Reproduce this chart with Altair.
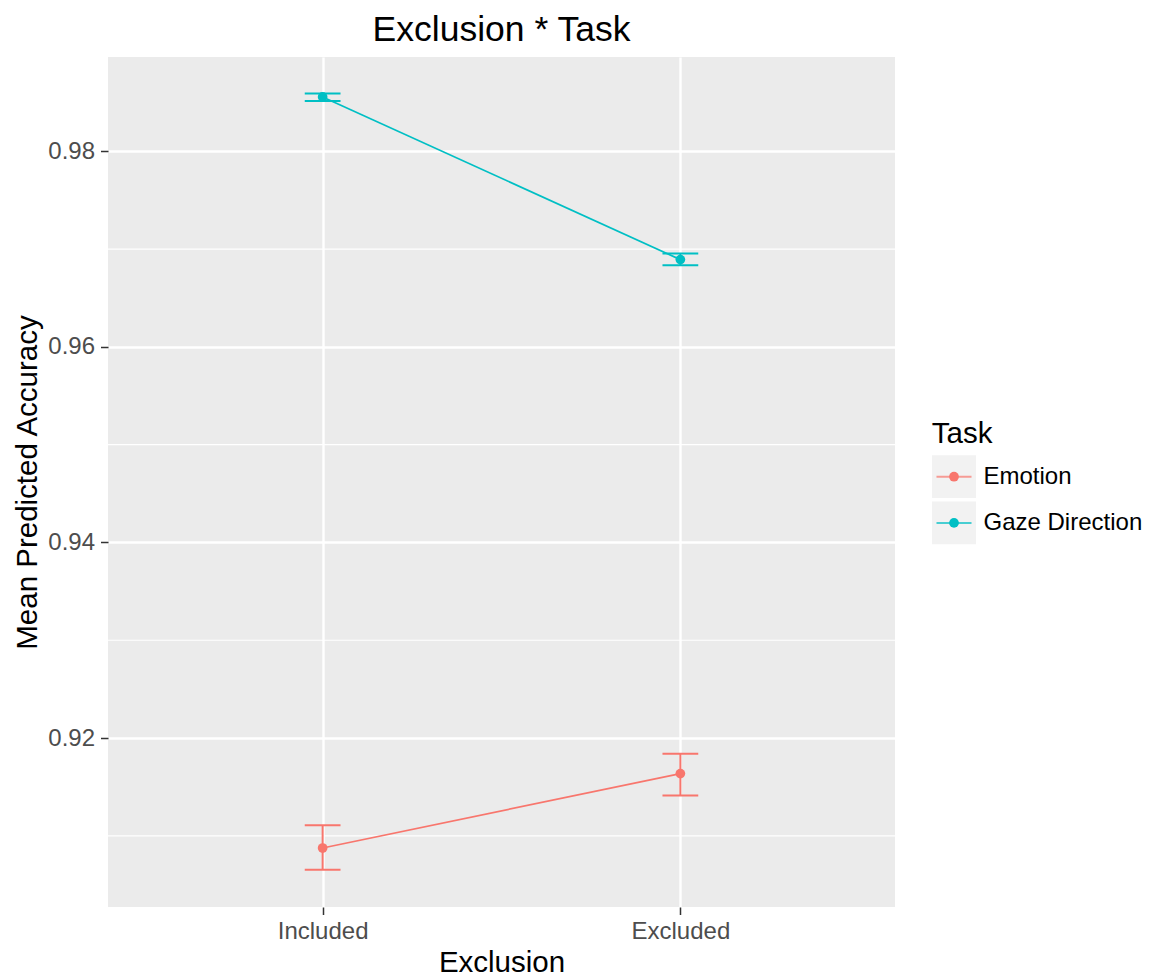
import json
import altair as alt
import pandas as pd

# ---- data ----
exclusion = ["Included", "Excluded"]
tasks = ["Emotion", "Gaze Direction"]
colors = ["#F8766D", "#00BFC4"]

emotion_mean = [0.90875, 0.91636]
emotion_lo = [0.90654, 0.91411]
emotion_hi = [0.91107, 0.91840]

gaze_mean = [0.98555, 0.96892]
gaze_lo = [0.98514, 0.96834]
gaze_hi = [0.98590, 0.96954]

y_major = [0.92, 0.94, 0.96, 0.98]
y_minor = [0.91, 0.93, 0.95, 0.97]
y_domain = [0.90272, 0.98964]

rows = []
for task, m, lo, hi in [("Emotion", emotion_mean, emotion_lo, emotion_hi),
                        ("Gaze Direction", gaze_mean, gaze_lo, gaze_hi)]:
    for i, ex in enumerate(exclusion):
        rows.append({"Exclusion": ex, "idx": i + 1, "Task": task,
                     "mean": m[i], "lo": lo[i], "hi": hi[i]})
df = pd.DataFrame(rows)
minor_df = pd.DataFrame({"v": y_minor})
task_df = pd.DataFrame({"Task": tasks})

FONT = "Liberation Sans"
TICK_FS = 24
TITLE_FS = 29.5
color = alt.Color("Task:N", scale=alt.Scale(domain=tasks, range=colors), legend=None)
yscale = alt.Scale(domain=y_domain, nice=False, zero=False)
xscale = alt.Scale(domain=[0.4, 2.6], nice=False, zero=False)

label_expr = json.dumps(exclusion) + "[round(datum.value) - 1]"

x_enc = alt.X("idx:Q", scale=xscale, axis=alt.Axis(
    values=[1, 2], labelExpr=label_expr, title="Exclusion",
    grid=True, gridColor="white", gridWidth=2.4,
    domain=False, ticks=True, tickColor="#333333", tickSize=7.5, tickWidth=1.5,
    labelFontSize=TICK_FS, labelColor="#4D4D4D", labelPadding=5, labelFont=FONT,
    titleFontSize=TITLE_FS, titleColor="black", titleFontWeight="normal",
    titlePadding=5, titleFont=FONT))
y_enc = alt.Y("mean:Q", scale=yscale, axis=alt.Axis(
    values=y_major, format=".2f", title="Mean Predicted Accuracy",
    grid=True, gridColor="white", gridWidth=2.4,
    domain=False, ticks=True, tickColor="#333333", tickSize=7.5, tickWidth=1.5,
    labelFontSize=TICK_FS, labelColor="#4D4D4D", labelPadding=6, labelFont=FONT,
    titleFontSize=TITLE_FS, titleColor="black", titleFontWeight="normal",
    titlePadding=5, titleFont=FONT))

base = alt.Chart(df)

minor = alt.Chart(minor_df).mark_rule(color="white", strokeWidth=1.2).encode(
    y=alt.Y("v:Q", scale=yscale))
line = base.mark_line(strokeWidth=1.7).encode(x=x_enc, y=y_enc, color=color)
vbar = base.mark_rule(strokeWidth=2).encode(
    x="idx:Q", y=alt.Y("lo:Q", scale=yscale), y2="hi:Q", color=color)
caps_base = base.transform_calculate(xl="datum.idx - 0.05", xr="datum.idx + 0.05")
cap_lo = caps_base.mark_rule(strokeWidth=2).encode(
    x=alt.X("xl:Q", scale=xscale), x2="xr:Q", y=alt.Y("lo:Q", scale=yscale), color=color)
cap_hi = caps_base.mark_rule(strokeWidth=2).encode(
    x=alt.X("xl:Q", scale=xscale), x2="xr:Q", y=alt.Y("hi:Q", scale=yscale), color=color)
pts = base.mark_circle(size=95, opacity=1).encode(
    x="idx:Q", y=alt.Y("mean:Q", scale=yscale), color=color)

main = alt.layer(minor, line, vbar, cap_lo, cap_hi, pts).properties(
    width=787, height=850,
    title=alt.TitleParams("Exclusion * Task", fontSize=35.5, font=FONT,
                          fontWeight="normal", color="black", anchor="middle", offset=9),
    view=alt.ViewBackground(fill="#EBEBEB", strokeWidth=0),
)

# ---- legend panel (built from the task list) ----
leg_y = alt.Y("Task:N", scale=alt.Scale(domain=tasks, range=[398.3, 487.3], paddingInner=0.0728,
                                         paddingOuter=0),
              axis=alt.Axis(orient="right", ticks=False, tickSize=0, domain=False, grid=False,
                            labelPadding=7, labelFontSize=TICK_FS, labelColor="black", labelFont=FONT,
                            title="Task", titleAngle=0, titleAlign="left",
                            titleBaseline="alphabetic", titleX=-44.7, titleY=385,
                            titleFontSize=TITLE_FS, titleFontWeight="normal", titleColor="black",
                            titleFont=FONT))
leg_base = alt.Chart(task_df)
leg_rect = leg_base.mark_rect(color="#F2F2F2").encode(y=leg_y)
leg_tick = leg_base.mark_tick(orient="horizontal", size=35, thickness=2).encode(
    y=alt.Y("Task:N"), color=color)
leg_pt = leg_base.mark_circle(size=95, opacity=1).encode(y=alt.Y("Task:N"), color=color)
legend = alt.layer(leg_rect, leg_tick, leg_pt).properties(
    width=44, height=850,
    view=alt.ViewBackground(strokeWidth=0),
)

chart = alt.hconcat(main, legend, spacing=37, bounds="flush").properties(
    padding={"left": 4, "top": 4, "right": 5, "bottom": 2},
).configure(font=FONT).configure_view(strokeWidth=0)

chart.save("out.html", embed_options={"renderer": "svg", "actions": False})
